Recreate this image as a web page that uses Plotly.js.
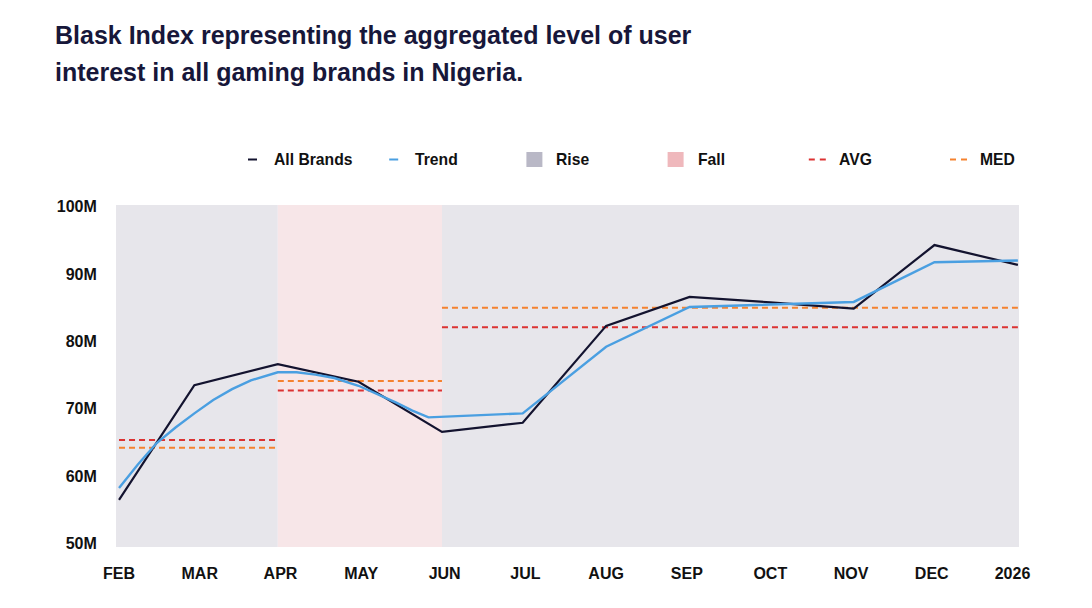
<!DOCTYPE html>
<html><head><meta charset="utf-8">
<script src="https://cdn.plot.ly/plotly-3.0.1.min.js"></script>
<style>html,body{margin:0;padding:0;background:#fff;} #chart{width:1092px;height:608px;}</style>
</head><body><div id="chart"></div>
<script>
// ---- data (values in millions) ----
const months = ['2025-02-01','2025-03-01','2025-04-01','2025-05-01','2025-06-01','2025-07-01','2025-08-01','2025-09-01','2025-10-01','2025-11-01','2025-12-01','2026-01-01'];
const allBrands = [56.45,73.5,76.6,74.0,66.55,67.9,82.3,86.6,85.8,84.85,94.3,91.35];
const trendDates = ['2025-02-01','2025-02-08','2025-02-15','2025-02-22','2025-03-01','2025-03-08','2025-03-15','2025-03-22','2025-04-01','2025-04-08','2025-04-15','2025-04-22','2025-05-01','2025-05-08','2025-05-15','2025-05-21','2025-05-27','2025-07-01','2025-08-01','2025-09-01','2025-10-01','2025-11-01','2025-12-01','2026-01-01'];
const trend = [58.2,61.7,64.9,67.2,69.3,71.3,72.9,74.2,75.4,75.4,75.05,74.55,73.4,72.2,70.9,69.7,68.7,69.3,79.2,85.1,85.5,85.85,91.75,92.0];
const periodKinds = ['Rise','Fall','Rise'];
const periodStarts = ['2025-02-01','2025-04-01','2025-06-01'];
const periodEnds = ['2025-04-01','2025-06-01','2026-01-01'];
const periodAvg = [65.35,72.7,82.1];
const periodMed = [64.2,74.1,85.0];
const tickDates = ['2025-02-01','2025-03-03','2025-04-02','2025-05-02','2025-06-02','2025-07-02','2025-08-01','2025-08-31','2025-10-01','2025-10-31','2025-11-30','2025-12-30'];
const tickLabels = ['FEB','MAR','APR','MAY','JUN','JUL','AUG','SEP','OCT','NOV','DEC','2026'];
const yTicks = [50,60,70,80,90,100];
const yTickLabels = ['50M','60M','70M','80M','90M','100M'];
const legendLabels = ['All Brands','Trend','Rise','Fall','AVG','MED'];

// ---- style ----
const C = {black:'#13132f', blue:'#4a9fe1', red:'#dc3232', orange:'#f5822f',
  riseBg:'#e7e6eb', fallBg:'#f7e6e8', riseSw:'#b9b8c6', fallSw:'#efb8bc', text:'#111111', title:'#17173a'};
const FONT = 'Liberation Sans, Arial, sans-serif';
const W = 1092, H = 608, M = {l:116, r:73, t:205, b:61};
const pw = W - M.l - M.r, ph = H - M.t - M.b;
const px = x => (x - M.l) / pw, py = y => (H - M.b - y) / ph;
const xRange = ['2025-01-30 21:00','2026-01-01 10:00'];

// segment traces for AVG / MED
function segs(vals){ const x=[],y=[]; vals.forEach((v,i)=>{x.push(periodStarts[i],periodEnds[i],null);y.push(v,v,null);}); return {x,y}; }
const avgS = segs(periodAvg), medS = segs(periodMed);

const traces = [
  {x:avgS.x, y:avgS.y, name:'AVG', mode:'lines', line:{color:C.red, width:2, dash:'6px,4px'}, hoverinfo:'skip'},
  {x:medS.x, y:medS.y, name:'MED', mode:'lines', line:{color:C.orange, width:2, dash:'6px,4px'}, hoverinfo:'skip'},
  {x:months, y:allBrands, name:'All Brands', mode:'lines', line:{color:C.black, width:2.2}},
  {x:trendDates, y:trend, name:'Trend', mode:'lines', line:{color:C.blue, width:2.4}}
];

const shapes = [];
periodKinds.forEach((k,i)=>{
  shapes.push({type:'rect', xref:'x', yref:'paper', layer:'below',
    x0: i===0 ? xRange[0] : periodStarts[i], x1: i===periodKinds.length-1 ? xRange[1] : periodEnds[i],
    y0:0, y1:1, fillcolor: k==='Rise'?C.riseBg:C.fallBg, line:{width:0}});
});

// custom legend
const annotations = [];
const legKinds = ['line','line','box','box','dash','dash'];
const legColors = [C.black, C.blue, C.riseSw, C.fallSw, C.red, C.orange];
const legY = 159.5;
legendLabels.forEach((lab,i)=>{
  const tx = 274 + i*141.2;
  annotations.push({text:lab, xref:'paper', yref:'paper', x:px(tx-2), y:py(legY), xanchor:'left', yanchor:'middle',
    showarrow:false, font:{family:FONT, size:15.7, weight:700, color:C.text}});
  const k = legKinds[i];
  if (k==='line') shapes.push({type:'line', xref:'paper', yref:'paper', x0:px(tx-26), x1:px(tx-17), y0:py(legY), y1:py(legY), line:{color:legColors[i], width:2}});
  else if (k==='box') shapes.push({type:'rect', xref:'paper', yref:'paper', x0:px(tx-30), x1:px(tx-14), y0:py(legY+7.5), y1:py(legY-7.5), fillcolor:legColors[i], line:{width:0}});
  else { [[-30,-24],[-19,-13]].forEach(d=>shapes.push({type:'line', xref:'paper', yref:'paper', x0:px(tx+d[0]), x1:px(tx+d[1]), y0:py(legY), y1:py(legY), line:{color:legColors[i], width:2}})); }
});

const titleLines = ['Blask Index representing the aggregated level of user','interest in all gaming brands in Nigeria.'];
const layout = {
  width:W, height:H, margin:M, paper_bgcolor:'#fff', plot_bgcolor:'#fff', showlegend:false,
  title:{text:titleLines.map(t=>'<span style="font-size:25px">'+t+'</span>').join('<br>'),
    x:55/W, xref:'container', xanchor:'left', y:1-44/H, yref:'container', yanchor:'top',
    font:{family:FONT, size:28.3, weight:700, color:C.title}},
  xaxis:{type:'date', range:xRange, tickvals:tickDates, ticktext:tickLabels, showgrid:false, zeroline:false, showline:false,
    ticks:'outside', ticklen:12, tickcolor:'rgba(0,0,0,0)', tickfont:{family:FONT, size:16, weight:700, color:C.text}, fixedrange:true},
  yaxis:{range:[49.45,100.25], tickvals:yTicks, ticktext:yTickLabels, showgrid:false, zeroline:false, showline:false,
    ticks:'outside', ticklen:15, tickcolor:'rgba(0,0,0,0)', tickfont:{family:FONT, size:16, weight:700, color:C.text}, fixedrange:true},
  shapes, annotations
};
Plotly.newPlot('chart', traces, layout, {displayModeBar:false, staticPlot:true});
</script></body></html>
